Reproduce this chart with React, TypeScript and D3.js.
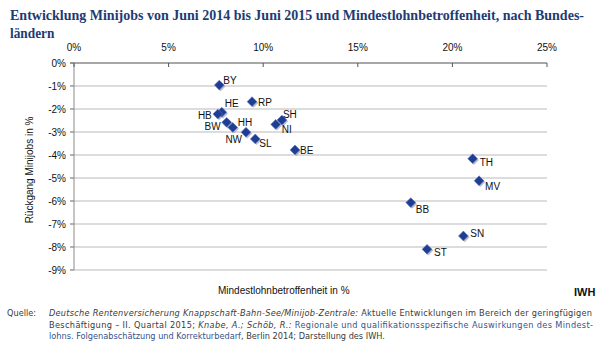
import React from 'react';
import * as d3 from 'd3';

// Bundesländer: Mindestlohnbetroffenheit (%) vs. Rückgang Minijobs (%)
const laender = ['BY', 'HE', 'HB', 'BW', 'NW', 'HH', 'SL', 'RP', 'NI', 'SH', 'BE', 'TH', 'MV', 'BB', 'SN', 'ST'];
const betroffenheit = [7.68, 7.81, 7.6, 8.07, 8.39, 9.09, 9.58, 9.41, 10.66, 10.99, 11.68, 21.07, 21.41, 17.8, 20.58, 18.66];
const rueckgang = [-0.96, -2.14, -2.22, -2.58, -2.8, -3.01, -3.3, -1.68, -2.67, -2.48, -3.78, -4.16, -5.12, -6.07, -7.52, -8.1];

const xTicks = [0, 5, 10, 15, 20, 25];
const yTicks = [0, -1, -2, -3, -4, -5, -6, -7, -8, -9];

// label placement next to each marker: [dx, dy, anchor]
const labelPos: Record<string, [number, number, string]> = {
  BY: [4, -5, 'start'],
  HE: [3, -9, 'start'],
  HB: [-6, 1, 'end'],
  BW: [-6, 4, 'end'],
  NW: [1, 12, 'middle'],
  HH: [-1, -10, 'middle'],
  SL: [4, 5, 'start'],
  RP: [6, 1, 'start'],
  SH: [1, -6, 'start'],
  NI: [6, 5, 'start'],
  BE: [5, 1, 'start'],
  TH: [7, 4, 'start'],
  MV: [6, 6, 'start'],
  BB: [5, 7, 'start'],
  SN: [7, -2, 'start'],
  ST: [7, 3, 'start'],
};

const W = 600;
const H = 351;

export default function App() {
  const x = d3.scaleLinear().domain([0, 25]).range([74, 547]);
  const y = d3.scaleLinear().domain([0, -9]).range([63, 270]);
  const pts = laender.map((k, i) => ({ k, x: x(betroffenheit[i]), y: y(rueckgang[i]) }));
  const r = 4.9;
  const diamond = (cx: number, cy: number) =>
    `M${cx},${cy - r}L${cx + r},${cy}L${cx},${cy + r}L${cx - r},${cy}Z`;
  const src = { fontFamily: 'DejaVu Sans, sans-serif', fontSize: 8.2, fill: '#3a3a3a' };
  const blue = '#33538f';
  const sx = 0.86;

  return (
    <svg width={W} height={H} style={{ position: 'absolute', left: 0, top: 0, background: '#fff' }}>
      <g fontFamily="Liberation Serif, serif" fontWeight="bold" fontSize={15.5} fill="#1e3b74">
        <text transform={`translate(10,20) scale(${sx},1)`} textLength={574 / sx} lengthAdjust="spacingAndGlyphs">
          Entwicklung Minijobs von Juni 2014 bis Juni 2015 und Mindestlohnbetroffenheit, nach Bundes-
        </text>
        <text transform={`translate(10,38) scale(${sx},1)`}>ländern</text>
      </g>

      <g fontFamily="Arial, Liberation Sans, sans-serif" fontSize={10} fill="#111">
        {yTicks.map((t) => (
          <g key={t}>
            <line x1={70} x2={547} y1={y(t)} y2={y(t)} stroke={t === 0 ? '#8a8a8a' : '#b9b9b9'} strokeWidth={t === 0 ? 1.4 : 1} />
            <line x1={70} x2={74} y1={y(t)} y2={y(t)} stroke="#8a8a8a" />
            <text x={66} y={y(t)} dy="0.35em" textAnchor="end">{`${t}%`}</text>
          </g>
        ))}
        <line x1={74} x2={74} y1={63} y2={270} stroke="#8a8a8a" />
        {xTicks.map((t) => (
          <g key={t}>
            <line x1={x(t)} x2={x(t)} y1={63} y2={67} stroke="#555" />
            <text x={x(t)} y={51} textAnchor="middle">{`${t}%`}</text>
          </g>
        ))}
        <text transform="translate(33,170) rotate(-90)" textAnchor="middle">Rückgang Minijobs in %</text>
        <text x={218} y={294}>Mindestlohnbetroffenheit in %</text>
        <text x={574} y={296} fontWeight="bold" fontSize={11}>IWH</text>
      </g>

      <g>
        {pts.map((p) => (
          <path key={p.k + 's'} d={diamond(p.x + 1.3, p.y + 1.3)} fill="#9ea3b3" opacity={0.7} />
        ))}
        {pts.map((p) => (
          <path key={p.k} d={diamond(p.x, p.y)} fill="#1f3d94" stroke="#6079b9" strokeWidth={0.6} />
        ))}
      </g>
      <g fontFamily="Arial, Liberation Sans, sans-serif" fontSize={10} fill="#111">
        {pts.map((p) => {
          const [dx, dy, anchor] = labelPos[p.k];
          return (
            <text key={p.k} x={p.x + dx} y={p.y + dy} dy="0.35em" textAnchor={anchor as any}>
              {p.k}
            </text>
          );
        })}
      </g>

      <g {...src}>
        <text x={7} y={316}>Quelle:</text>
        <text x={49} y={316} textLength={543} lengthAdjust="spacing">
          <tspan fontStyle="italic">Deutsche Rentenversicherung Knappschaft-Bahn-See/Minijob-Zentrale:</tspan>
          <tspan> Aktuelle Entwicklungen im Bereich der geringfügigen</tspan>
        </text>
        <text x={49} y={327.5} textLength={544} lengthAdjust="spacing">
          <tspan>Beschäftigung – II. Quartal 2015; </tspan>
          <tspan fontStyle="italic">Knabe, A.; Schöb, R.:</tspan>
          <tspan fill={blue}> Regionale und qualifikationsspezifische Auswirkungen des Mindest-</tspan>
        </text>
        <text x={49} y={339}>
          <tspan fill={blue}>lohns. Folgenabschätzung und Korrekturbedarf</tspan>
          <tspan>, Berlin 2014; Darstellung des IWH.</tspan>
        </text>
      </g>
    </svg>
  );
}
